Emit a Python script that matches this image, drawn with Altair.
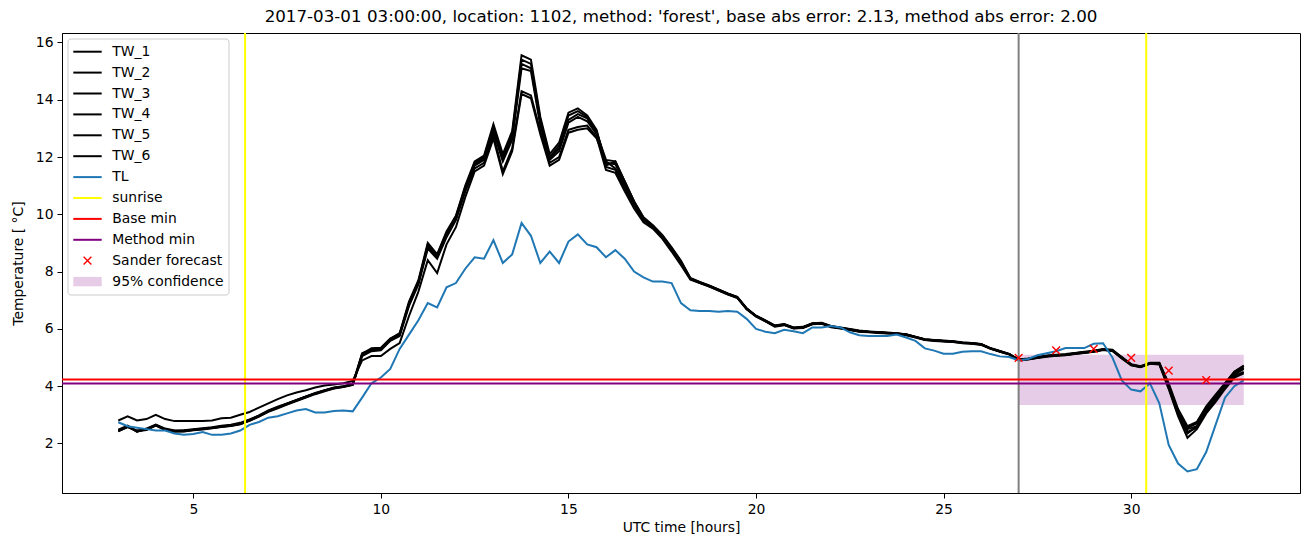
import altair as alt
import pandas as pd

# ---------------- data ----------------
hours = [3 + i * 0.25 for i in range(121)]  # sampling grid, 3:00 .. 33:00

TL = [
    2.74, 2.60, 2.55, 2.50, 2.45, 2.45, 2.35, 2.30,
    2.33, 2.40, 2.30, 2.30, 2.35, 2.45, 2.65, 2.75,
    2.90, 2.95, 3.05, 3.15, 3.20, 3.08, 3.08, 3.13,
    3.15, 3.12, 3.60, 4.10, 4.30, 4.60, 5.30, 5.80,
    6.30, 6.90, 6.75, 7.45, 7.60, 8.10, 8.50, 8.45,
    9.10, 8.30, 8.60, 9.70, 9.25, 8.30, 8.70, 8.30,
    9.05, 9.30, 8.95, 8.85, 8.50, 8.75, 8.45, 8.00,
    7.80, 7.65, 7.65, 7.60, 6.90, 6.65, 6.62, 6.62,
    6.60, 6.62, 6.60, 6.35, 6.00, 5.90, 5.85, 5.97,
    5.92, 5.85, 6.05, 6.05, 6.10, 6.05, 5.88, 5.78,
    5.75, 5.75, 5.75, 5.80, 5.70, 5.58, 5.32, 5.24,
    5.13, 5.13, 5.20, 5.22, 5.22, 5.12, 5.04, 5.02,
    4.90, 4.95, 5.08, 5.15, 5.22, 5.33, 5.33, 5.33,
    5.48, 5.50, 5.00, 4.20, 3.88, 3.82, 4.10, 3.40,
    1.95, 1.30, 1.02, 1.10, 1.70, 2.65, 3.60, 4.00,
    4.20,
]

TW_1 = [
    2.45, 2.60, 2.42, 2.50, 2.65, 2.50, 2.43, 2.45,
    2.48, 2.52, 2.55, 2.60, 2.63, 2.70, 2.82, 2.98,
    3.15, 3.28, 3.40, 3.52, 3.64, 3.76, 3.86, 3.95,
    4.00, 4.08, 5.15, 5.30, 5.32, 5.65, 5.85, 6.95,
    7.70, 9.00, 8.60, 9.40, 9.95, 11.00, 11.85, 12.05,
    13.15, 12.10, 12.90, 15.55, 15.40, 13.40, 12.10, 12.50,
    13.55, 13.70, 13.45, 12.95, 11.70, 11.85, 11.15, 10.45,
    9.90, 9.62, 9.28, 8.85, 8.38, 7.78, 7.64, 7.52,
    7.38, 7.24, 7.12, 6.72, 6.46, 6.30, 6.12, 6.17,
    6.05, 6.07, 6.20, 6.21, 6.10, 6.05, 6.00, 5.94,
    5.91, 5.89, 5.87, 5.85, 5.81, 5.73, 5.64, 5.61,
    5.59, 5.57, 5.53, 5.51, 5.47, 5.33, 5.23, 5.13,
    4.93, 4.97, 5.02, 5.07, 5.10, 5.12, 5.16, 5.20,
    5.24, 5.30, 5.27, 5.02, 4.77, 4.70, 4.82, 4.82,
    4.10, 3.20, 2.60, 2.75, 3.30, 3.70, 4.10, 4.50,
    4.72,
]

TW_2 = [
    2.42, 2.58, 2.45, 2.48, 2.62, 2.48, 2.42, 2.43,
    2.47, 2.50, 2.54, 2.58, 2.62, 2.68, 2.80, 2.95,
    3.12, 3.25, 3.38, 3.50, 3.62, 3.74, 3.84, 3.93,
    3.98, 4.05, 5.10, 5.28, 5.30, 5.62, 5.80, 6.90,
    7.65, 8.90, 8.55, 9.30, 9.90, 10.95, 11.80, 12.00,
    13.05, 12.00, 12.80, 15.40, 15.25, 13.30, 12.00, 12.40,
    13.45, 13.60, 13.40, 12.90, 11.80, 11.75, 11.05, 10.35,
    9.85, 9.58, 9.24, 8.80, 8.33, 7.75, 7.62, 7.50,
    7.36, 7.22, 7.10, 6.70, 6.45, 6.28, 6.10, 6.15,
    6.03, 6.05, 6.18, 6.20, 6.08, 6.03, 5.98, 5.92,
    5.90, 5.88, 5.86, 5.84, 5.80, 5.72, 5.63, 5.60,
    5.58, 5.56, 5.52, 5.50, 5.46, 5.32, 5.22, 5.12,
    4.92, 4.95, 5.00, 5.05, 5.08, 5.10, 5.15, 5.18,
    5.22, 5.28, 5.25, 5.00, 4.75, 4.68, 4.80, 4.80,
    4.00, 3.05, 2.50, 2.60, 3.20, 3.60, 4.05, 4.45,
    4.65,
]

TW_3 = [
    2.48, 2.62, 2.40, 2.52, 2.66, 2.52, 2.45, 2.46,
    2.50, 2.53, 2.57, 2.62, 2.65, 2.72, 2.84, 2.97,
    3.13, 3.26, 3.39, 3.51, 3.63, 3.75, 3.85, 3.94,
    3.99, 4.06, 5.12, 5.32, 5.34, 5.66, 5.82, 6.85,
    7.60, 8.95, 8.58, 9.35, 9.92, 10.90, 11.75, 11.95,
    12.95, 11.90, 12.70, 15.25, 15.10, 13.20, 11.95, 12.30,
    13.30, 13.50, 13.35, 12.85, 11.90, 11.85, 11.15, 10.45,
    9.88, 9.60, 9.26, 8.82, 8.34, 7.76, 7.63, 7.51,
    7.37, 7.23, 7.11, 6.71, 6.45, 6.29, 6.11, 6.16,
    6.04, 6.06, 6.19, 6.20, 6.09, 6.04, 5.99, 5.93,
    5.90, 5.88, 5.86, 5.84, 5.80, 5.72, 5.63, 5.60,
    5.58, 5.56, 5.52, 5.50, 5.46, 5.32, 5.22, 5.12,
    4.92, 4.95, 5.00, 5.05, 5.08, 5.10, 5.14, 5.17,
    5.21, 5.27, 5.24, 4.98, 4.74, 4.67, 4.79, 4.78,
    3.95, 3.00, 2.40, 2.55, 3.10, 3.50, 3.95, 4.35,
    4.50,
]

TW_4 = [
    2.45, 2.59, 2.44, 2.49, 2.64, 2.49, 2.44, 2.44,
    2.48, 2.51, 2.55, 2.59, 2.63, 2.69, 2.81, 2.96,
    3.13, 3.26, 3.39, 3.51, 3.63, 3.75, 3.85, 3.94,
    3.99, 4.06, 5.08, 5.26, 5.28, 5.60, 5.78, 6.88,
    7.62, 8.85, 8.50, 9.25, 9.85, 10.85, 11.70, 11.90,
    12.90, 11.85, 12.60, 15.10, 15.00, 13.10, 11.90, 12.20,
    13.20, 13.40, 13.25, 12.80, 11.65, 11.55, 10.90, 10.30,
    9.80, 9.55, 9.20, 8.75, 8.28, 7.74, 7.61, 7.49,
    7.35, 7.21, 7.09, 6.69, 6.44, 6.27, 6.09, 6.14,
    6.02, 6.04, 6.17, 6.19, 6.07, 6.02, 5.97, 5.91,
    5.89, 5.87, 5.85, 5.83, 5.79, 5.71, 5.62, 5.59,
    5.57, 5.55, 5.51, 5.49, 5.45, 5.31, 5.21, 5.11,
    4.91, 4.94, 4.99, 5.04, 5.07, 5.09, 5.13, 5.17,
    5.21, 5.27, 5.24, 4.99, 4.75, 4.68, 4.80, 4.80,
    4.05, 3.10, 2.55, 2.70, 3.25, 3.65, 4.10, 4.50,
    4.70,
]

TW_5 = [
    2.43, 2.57, 2.43, 2.47, 2.63, 2.47, 2.42, 2.42,
    2.46, 2.49, 2.53, 2.57, 2.61, 2.67, 2.79, 2.94,
    3.10, 3.23, 3.36, 3.48, 3.60, 3.72, 3.82, 3.92,
    3.97, 4.04, 5.05, 5.22, 5.25, 5.58, 5.75, 6.80,
    7.55, 8.80, 8.45, 9.20, 9.80, 10.80, 11.60, 11.80,
    12.75, 11.50, 12.30, 14.30, 14.15, 12.90, 11.80, 12.00,
    12.95, 13.05, 13.10, 12.70, 11.55, 11.45, 10.80, 10.20,
    9.72, 9.50, 9.15, 8.70, 8.22, 7.72, 7.60, 7.48,
    7.34, 7.20, 7.08, 6.68, 6.43, 6.26, 6.08, 6.13,
    6.01, 6.03, 6.16, 6.18, 6.06, 6.01, 5.96, 5.90,
    5.88, 5.86, 5.84, 5.82, 5.78, 5.70, 5.61, 5.58,
    5.56, 5.54, 5.50, 5.48, 5.44, 5.30, 5.20, 5.10,
    4.90, 4.93, 4.98, 5.03, 5.06, 5.08, 5.12, 5.16,
    5.20, 5.26, 5.23, 4.97, 4.73, 4.66, 4.78, 4.76,
    3.90, 2.95, 2.20, 2.50, 3.05, 3.45, 3.90, 4.30,
    4.45,
]

TW_6 = [
    2.80, 2.95, 2.80, 2.85, 3.00, 2.85, 2.78, 2.78,
    2.78, 2.78, 2.80, 2.88, 2.90, 3.00, 3.10, 3.25,
    3.40, 3.55, 3.68, 3.78, 3.86, 3.95, 4.02, 4.06,
    4.10, 4.18, 4.90, 5.05, 5.05, 5.30, 5.50, 6.45,
    7.30, 8.40, 7.95, 8.95, 9.55, 10.60, 11.50, 11.70,
    12.65, 11.40, 12.20, 14.20, 14.05, 12.80, 11.70, 11.90,
    12.85, 12.95, 13.00, 12.65, 11.85, 11.60, 11.00, 10.40,
    9.85, 9.58, 9.24, 8.80, 8.32, 7.75, 7.62, 7.50,
    7.36, 7.22, 7.10, 6.70, 6.45, 6.28, 6.10, 6.15,
    6.03, 6.05, 6.18, 6.20, 6.08, 6.03, 5.98, 5.92,
    5.90, 5.88, 5.86, 5.84, 5.80, 5.72, 5.63, 5.60,
    5.58, 5.56, 5.52, 5.50, 5.46, 5.32, 5.22, 5.12,
    4.92, 4.95, 5.00, 5.05, 5.08, 5.10, 5.15, 5.18,
    5.22, 5.28, 5.25, 5.00, 4.75, 4.68, 4.80, 4.80,
    4.00, 3.05, 2.35, 2.60, 3.15, 3.55, 4.00, 4.40,
    4.60,
]

tw_names = ["TW_1", "TW_2", "TW_3", "TW_4", "TW_5", "TW_6"]
tw_series = [TW_1, TW_2, TW_3, TW_4, TW_5, TW_6]

sunrise_hours = [6.38, 30.40]
forecast_start = [27.0]
base_min = [4.23]
method_min = [4.09]
forecast_hours = [27, 28, 29, 30, 31, 32]
forecast_values = [4.99, 5.25, 5.30, 4.99, 4.54, 4.21]
conf_hours = [27.0, 33.0]
conf_bounds = [3.34, 5.10]

legend_labels = ["TW_1", "TW_2", "TW_3", "TW_4", "TW_5", "TW_6", "TL",
                 "sunrise", "Base min", "Method min", "Sander forecast",
                 "95% confidence"]
legend_colors = ["black"] * 6 + ["#1f77b4", "yellow", "red", "purple",
                                  "red", "purple"]

TITLE = ("2017-03-01 03:00:00, location: 1102, method: 'forest', "
         "base abs error: 2.13, method abs error: 2.00")

# ---------------- tables ----------------
tw_df = pd.DataFrame([
    {"t": h, "v": v, "series": name}
    for name, vals in zip(tw_names, tw_series)
    for h, v in zip(hours, vals)
])
tl_df = pd.DataFrame({"t": hours, "v": TL})
sun_df = pd.DataFrame({"t": sunrise_hours})
fs_df = pd.DataFrame({"t": forecast_start})
base_df = pd.DataFrame({"v": base_min})
meth_df = pd.DataFrame({"v": method_min})
fc_df = pd.DataFrame({"t": forecast_hours, "v": forecast_values})
conf_df = pd.DataFrame({"x1": [conf_hours[0]], "x2": [conf_hours[1]],
                        "y1": [conf_bounds[0]], "y2": [conf_bounds[1]]})

FONT = "DejaVu Sans"
FS = 13.9
W, H = 1238, 460
xs = alt.Scale(domain=[1.5, 34.5], nice=False, zero=False)
ys = alt.Scale(domain=[0.27, 16.33], nice=False, zero=False)

x_axis = alt.Axis(values=[5, 10, 15, 20, 25, 30], format="d", grid=False,
                  title="UTC time [hours]", tickSize=5, labelPadding=4,
                  titlePadding=5)
y_axis = alt.Axis(values=[2, 4, 6, 8, 10, 12, 14, 16], format="d", grid=False,
                  title="Temperature [ °C]", tickSize=5, labelPadding=4,
                  titlePadding=10)

X = lambda f="t": alt.X(f"{f}:Q", scale=xs, axis=x_axis)
Y = lambda f="v": alt.Y(f"{f}:Q", scale=ys, axis=y_axis)

conf = alt.Chart(conf_df).mark_rect(color="purple", opacity=0.2).encode(
    x=X("x1"), x2="x2:Q", y=Y("y1"), y2="y2:Q")

tw = alt.Chart(tw_df).mark_line(color="black", strokeWidth=2).encode(
    x=X(), y=Y(), detail="series:N")

tl = alt.Chart(tl_df).mark_line(color="#1f77b4", strokeWidth=2).encode(
    x=X(), y=Y())

sun = alt.Chart(sun_df).mark_rule(color="yellow", strokeWidth=2).encode(x=X())
fs = alt.Chart(fs_df).mark_rule(color="gray", strokeWidth=2).encode(x=X())
base = alt.Chart(base_df).mark_rule(color="red", strokeWidth=2).encode(y=Y())
meth = alt.Chart(meth_df).mark_rule(color="purple", strokeWidth=2).encode(y=Y())

XSHAPE = "M-1,-1L1,1M-1,1L1,-1"
fc = alt.Chart(fc_df).mark_point(shape=XSHAPE, filled=False, color="red",
                                 size=60, strokeWidth=1.4, opacity=1).encode(
    x=X(), y=Y())

# ---------------- legend (drawn in pixel space) ----------------
n = len(legend_labels)
leg_df = pd.DataFrame({
    "label": legend_labels,
    "color": legend_colors,
    "kind": ["line"] * 10 + ["marker", "patch"],
    "py": [18.7 + 20.9 * i for i in range(n)],
})
leg_df["py1"] = leg_df["py"] - 4.7
leg_df["py2"] = leg_df["py"] + 4.7
leg_df["lx1"] = 11.3
leg_df["lx2"] = 39.7
leg_df["mx"] = 25.5
leg_df["tx"] = 50.3

box_df = pd.DataFrame({"x1": [6], "x2": [167], "y1": [6], "y2": [262]})
PX = lambda f: alt.X(f"{f}:Q", scale=None, axis=None)
PY = lambda f: alt.Y(f"{f}:Q", scale=None, axis=None)

leg_box = alt.Chart(box_df).mark_rect(
    fill="white", fillOpacity=0.8, stroke="#cccccc", strokeWidth=1,
    cornerRadius=3).encode(x=PX("x1"), x2="x2:Q", y=PY("y1"), y2="y2:Q")

leg_lines = alt.Chart(leg_df).transform_filter("datum.kind == 'line'").mark_rule(
    strokeWidth=2).encode(x=PX("lx1"), x2="lx2:Q", y=PY("py"),
                          color=alt.Color("color:N", scale=None))

leg_marker = alt.Chart(leg_df).transform_filter("datum.kind == 'marker'").mark_point(
    shape=XSHAPE, filled=False, size=60, strokeWidth=1.4, opacity=1).encode(
    x=PX("mx"), y=PY("py"), color=alt.Color("color:N", scale=None))

leg_patch = alt.Chart(leg_df).transform_filter("datum.kind == 'patch'").mark_rect(
    opacity=0.2).encode(x=PX("lx1"), x2="lx2:Q", y=PY("py1"), y2="py2:Q",
                        color=alt.Color("color:N", scale=None))

leg_text = alt.Chart(leg_df).mark_text(
    align="left", baseline="middle", fontSize=FS, font=FONT, color="black").encode(
    x=PX("tx"), y=PY("py"), text="label:N")

chart = alt.layer(
    conf, tw, tl, sun, fs, base, meth, fc,
    leg_box, leg_lines, leg_marker, leg_patch, leg_text,
).properties(
    width=W, height=H,
    padding={"left": 62, "top": 33, "right": 11, "bottom": 54},
    autosize=alt.AutoSizeParams(type="none"),
    title=alt.TitleParams(text=TITLE, fontSize=16.7, fontWeight="normal",
                          font=FONT, anchor="middle", color="black", offset=6),
).configure_view(
    stroke="black", strokeWidth=1
).configure_axis(
    labelFont=FONT, titleFont=FONT, labelFontSize=FS, titleFontSize=FS,
    titleFontWeight="normal", labelColor="black", titleColor="black",
    tickColor="black", domainColor="black", domainWidth=1, tickWidth=1,
)

chart.save("out.html", embed_options={"renderer": "svg", "actions": False})
